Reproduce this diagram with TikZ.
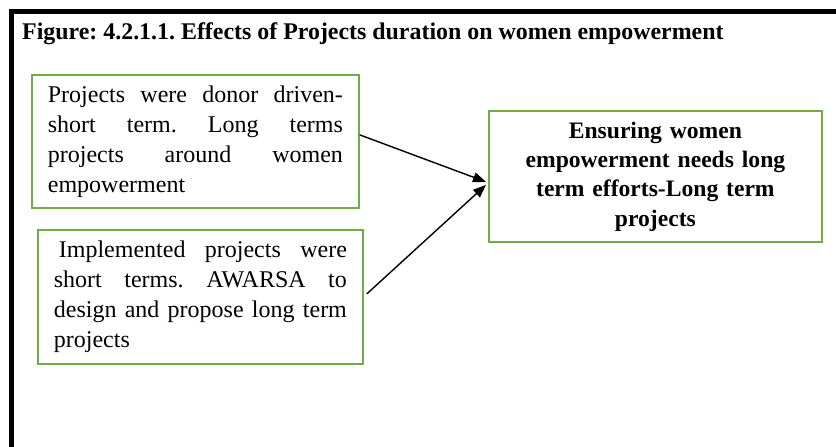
\documentclass[tikz,border=0pt]{standalone}
\usepackage{fontspec}
\setmainfont{Liberation Serif}
\usetikzlibrary{arrows.meta}
\definecolor{boxgreen}{RGB}{112,173,71}
\frenchspacing

\begin{document}
\begin{tikzpicture}[x=1pt,y=-1pt,
    every node/.style={inner ysep=0pt},
    txtbox/.style={draw=boxgreen, line width=1.8pt, anchor=north west,
        inner xsep=16pt, align=justify,
        font=\fontsize{24}{30}\selectfont},
    link/.style={-{Triangle[length=13pt,width=10pt]}, line width=1.4pt}]
    \useasboundingbox (0,0) rectangle (836,447);

    % open frame, left and top only
    \draw[line width=5pt] (11.5,447) -- (11.5,11.5) -- (836,11.5);
    \node[anchor=base west, inner sep=0pt,
        font=\fontsize{23.9}{28}\selectfont\bfseries] (title) at (22,39.5)
        {Figure: 4.2.1.1. Effects of Projects duration on women empowerment};

    \node[txtbox, text width=295pt, minimum height=133pt] (donor) at (31,74)
        {Projects were donor driven-\linebreak short term. Long terms\linebreak
         projects around women\linebreak empowerment};
    \node[txtbox, text width=293pt, minimum height=134pt] (short) at (37,229)
        {\hspace*{5pt}Implemented projects were\linebreak short terms. AWARSA to\linebreak
         design and propose long term\linebreak projects};
    \node[txtbox, text width=301pt, minimum height=131pt, align=center,
        font=\fontsize{23.6}{29.3}\selectfont\bfseries] (effort) at (488,110)
        {Ensuring women\\empowerment needs long\\term efforts-Long term\\projects};

    \draw[link] ([yshift=6.5pt]donor.east) -- ([xshift=-2pt,yshift=-5.5pt]effort.west);
    \draw[link] ([xshift=3pt,yshift=3pt]short.east) -- ([xshift=-2pt,yshift=-8.5pt]effort.west);
\end{tikzpicture}
\end{document}
